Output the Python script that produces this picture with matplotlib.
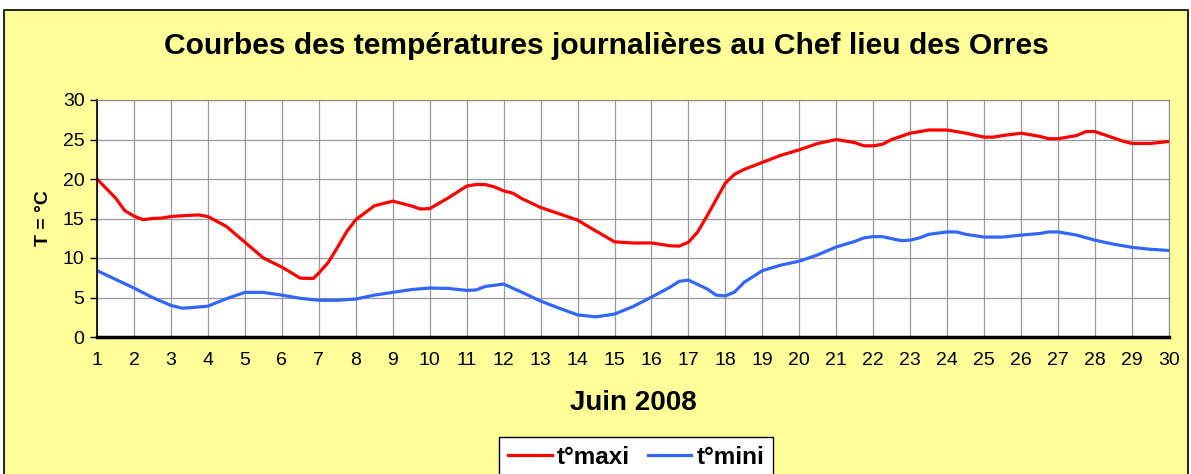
import numpy as np
import matplotlib.pyplot as plt
from matplotlib.patches import Rectangle

plt.rcParams['font.family'] = ['Liberation Sans', 'DejaVu Sans']

# daily max temperature (read at sub-day positions)
days_max = [1, 1.5, 1.75, 2, 2.25, 2.5, 2.75, 3, 3.5, 3.75, 4, 4.5, 5, 5.5, 6, 6.5, 6.85,
            7, 7.25, 7.5, 7.75, 8, 8.5, 9, 9.5, 9.75, 10, 10.5, 11, 11.25, 11.5, 11.75,
            12, 12.25, 12.5, 13, 13.5, 14, 14.5, 15, 15.5, 16, 16.5, 16.75, 17, 17.25,
            17.5, 18, 18.25, 18.5, 19, 19.5, 20, 20.5, 21, 21.5, 21.75, 22, 22.25, 22.5,
            23, 23.5, 24, 24.5, 25, 25.25, 25.5, 26, 26.5, 26.75, 27, 27.5, 27.75, 28,
            28.25, 28.5, 28.75, 29, 29.5, 30]
t_max = [20.0, 17.6, 16.0, 15.3, 14.85, 15.0, 15.05, 15.25, 15.4, 15.45, 15.25, 14.0, 12.0,
         10.0, 8.85, 7.45, 7.4, 8.1, 9.4, 11.3, 13.3, 14.85, 16.6, 17.2, 16.6, 16.2, 16.25,
         17.6, 19.1, 19.3, 19.3, 19.0, 18.5, 18.2, 17.5, 16.4, 15.6, 14.8, 13.4, 12.05,
         11.9, 11.9, 11.55, 11.5, 12.0, 13.3, 15.3, 19.5, 20.6, 21.2, 22.1, 23.0, 23.7,
         24.5, 25.0, 24.6, 24.2, 24.2, 24.4, 25.0, 25.8, 26.2, 26.2, 25.8, 25.3, 25.3,
         25.5, 25.8, 25.4, 25.1, 25.1, 25.5, 26.0, 26.0, 25.6, 25.2, 24.8, 24.5, 24.5, 24.75]

# daily min temperature
days_min = [1, 2, 2.5, 3, 3.3, 3.5, 4, 4.5, 5, 5.5, 6, 6.5, 7, 7.5, 8, 8.5, 9, 9.5, 10,
            10.5, 11, 11.25, 11.5, 12, 12.5, 13, 13.5, 14, 14.5, 15, 15.5, 16, 16.5, 16.75,
            17, 17.5, 17.75, 18, 18.25, 18.5, 19, 19.5, 20, 20.5, 21, 21.5, 21.75, 22,
            22.25, 22.5, 22.75, 23, 23.25, 23.5, 24, 24.25, 24.5, 25, 25.5, 26, 26.5,
            26.75, 27, 27.5, 28, 28.5, 29, 29.5, 30]
t_min = [8.4, 6.2, 5.0, 4.0, 3.65, 3.7, 3.9, 4.85, 5.65, 5.65, 5.3, 4.9, 4.65, 4.65, 4.8,
         5.3, 5.65, 6.0, 6.2, 6.15, 5.9, 5.95, 6.4, 6.7, 5.65, 4.55, 3.65, 2.8, 2.55, 2.9,
         3.85, 5.05, 6.3, 7.05, 7.2, 6.1, 5.3, 5.2, 5.7, 6.9, 8.4, 9.1, 9.6, 10.4, 11.4,
         12.1, 12.55, 12.7, 12.7, 12.45, 12.2, 12.25, 12.55, 13.0, 13.3, 13.3, 13.0, 12.65,
         12.65, 12.9, 13.1, 13.3, 13.3, 12.9, 12.25, 11.75, 11.35, 11.1, 10.95]

day_ticks = list(range(1, 31))
temp_ticks = [0, 5, 10, 15, 20, 25, 30]

W, H = 1191, 474
fig = plt.figure(figsize=(W / 100, H / 100), dpi=100, facecolor='white')

# yellow chart frame, kept behind the axes
frame = Rectangle((4 / W, -0.1), 1184 / W, 1.1 - 10 / H, transform=fig.transFigure,
                  facecolor='#FFFF99', edgecolor='black', linewidth=1.2, zorder=-10)
fig.add_artist(frame)

ax = fig.add_axes([97 / W, 1 - 337 / H, (1169 - 97) / W, (337 - 100) / H])
ax.set_facecolor('white')
ax.plot(days_max, t_max, color='#FF0000', lw=2.3, label='t°maxi', solid_joinstyle='round')
ax.plot(days_min, t_min, color='#3366FF', lw=2.3, label='t°mini', solid_joinstyle='round')

ax.set_xlim(1, 30)
ax.set_ylim(0, 30)
ax.set_xticks(day_ticks)
ax.set_yticks(temp_ticks)
ax.grid(True, color='#999999', lw=0.9)
ax.set_axisbelow(True)
ax.tick_params(axis='both', labelsize=14, length=5, width=1, direction='out')
ax.tick_params(axis='y', pad=4)
ax.tick_params(axis='x', length=0, pad=11)
for s in ['top', 'right']:
    ax.spines[s].set_color('#888888')
ax.spines['left'].set_linewidth(1.2)
ax.spines['bottom'].set_linewidth(2.5)

ax.set_ylabel('T = °C', fontsize=14, fontweight='bold', va='center')
ax.yaxis.set_label_coords(-(97 - 43) / 1072, 0.5)
ax.set_xlabel('Juin 2008', fontsize=20, fontweight='bold', va='center')
ax.xaxis.set_label_coords(0.5, -(403 - 337) / 237)
fig.text(606 / W, 1 - 46 / H, 'Courbes des températures journalières au Chef lieu des Orres',
         ha='center', va='center', fontsize=21.6, fontweight='bold')

leg = fig.legend(loc='upper center', bbox_to_anchor=(636 / W, 1 - 437 / H), ncol=2,
                 prop={'weight': 'bold', 'size': 17.5}, frameon=True, framealpha=1,
                 facecolor='white', fancybox=False, edgecolor='black', handlelength=1.8,
                 handletextpad=0.2, columnspacing=0.75, borderpad=0.35, borderaxespad=0)
leg.get_frame().set_linewidth(1)

fig.savefig('out.png', dpi=100, facecolor=fig.get_facecolor())
